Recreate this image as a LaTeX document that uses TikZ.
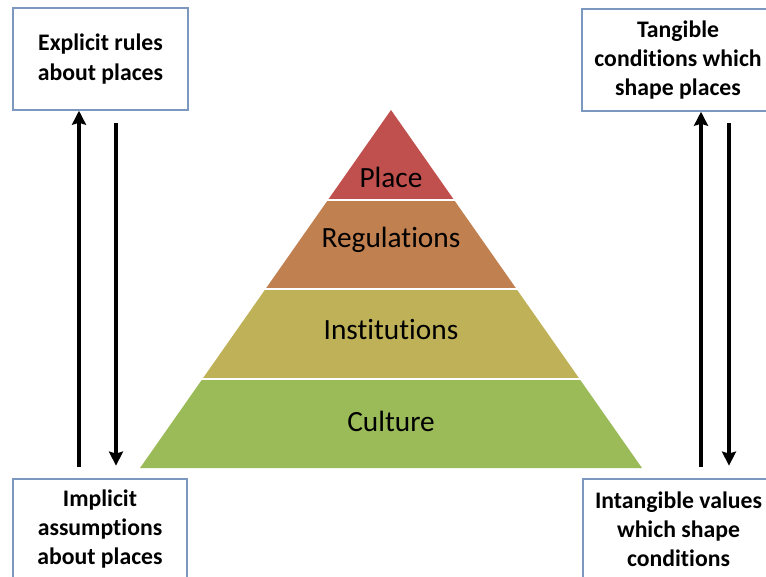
\documentclass[tikz,border=0pt]{standalone}
\usepackage{fontspec}
\setmainfont{Carlito}[Ligatures=NoCommon]
\usetikzlibrary{arrows.meta,calc}

\definecolor{placered}{RGB}{192,80,77}
\definecolor{regbrown}{RGB}{192,128,80}
\definecolor{instolive}{RGB}{191,177,88}
\definecolor{culturegreen}{RGB}{155,187,89}
\definecolor{boxblue}{RGB}{125,152,190}

\tikzset{every picture/.style={line width=0.75pt}}
\tikzset{
	notebox/.style={draw=boxblue, line width=1.1pt, fill=white, align=center, inner sep=0pt, font=\fontsize{17.8}{21.8}\selectfont\bfseries},
	bandlabel/.style={font=\fontsize{22}{26}\selectfont, text=black},
	flow/.style={line width=2.5pt, -{Stealth[length=10.5pt,width=10.5pt,inset=1.5pt]}},
}

\begin{document}
\begin{tikzpicture}[x=0.75pt,y=0.75pt,yscale=-1,xscale=1]
	\useasboundingbox (0,0) rectangle (766,576);
	\clip (0,0) rectangle (766,576);

	%Pyramid corners
	\coordinate (apex) at (391,110);
	\coordinate (bl) at (140,468);
	\coordinate (br) at (642,468);

	%Shape: Triangle [Place]
	\fill [placered] (apex) -- ($(apex)!0.25!(bl)$) -- ($(apex)!0.25!(br)$) -- cycle ;
	%Shape: Trapezoid [Regulations]
	\fill [regbrown] ($(apex)!0.25!(bl)$) -- ($(apex)!0.5!(bl)$) -- ($(apex)!0.5!(br)$) -- ($(apex)!0.25!(br)$) -- cycle ;
	%Shape: Trapezoid [Institutions]
	\fill [instolive] ($(apex)!0.5!(bl)$) -- ($(apex)!0.75!(bl)$) -- ($(apex)!0.75!(br)$) -- ($(apex)!0.5!(br)$) -- cycle ;
	%Shape: Trapezoid [Culture]
	\fill [culturegreen] ($(apex)!0.75!(bl)$) -- (bl) -- (br) -- ($(apex)!0.75!(br)$) -- cycle ;
	%white gaps between the layers
	\foreach \t in {0.25,0.5,0.75}
		\draw [white, line width=1.5pt] ($(apex)!\t!(bl)+(-2,0)$) -- ($(apex)!\t!(br)+(2,0)$) ;

	% Text Node
	\node [bandlabel] (place) at (391,177) {Place};
	% Text Node
	\node [bandlabel] (regulations) at (391,240) {Regulations};
	% Text Node
	\node [bandlabel] (institutions) at (391,330) {Institutions};
	% Text Node
	\node [bandlabel] (culture) at (391,421) {Culture};

	%Shape: Rectangle [top left]
	\node [notebox, minimum width=131.25pt, minimum height=76.5pt] (explicit) at (100.5,59) {Explicit rules\\about places};
	%Shape: Rectangle [top right]
	\node [notebox, minimum width=144pt, minimum height=76.5pt] (tangible) at (678,60) {Tangible\\conditions which\\shape places};
	%Shape: Rectangle [bottom left]
	\node [notebox, minimum width=130.5pt, minimum height=75pt] (implicit) at (100,529) {Implicit\\assumptions\\about places};
	%Shape: Rectangle [bottom right]
	\node [notebox, minimum width=143.25pt, minimum height=75pt] (intangible) at (678.5,529) {Intangible values\\which shape\\conditions};

	%Straight Lines [left pair]
	\coordinate (lup) at (79,467);
	\draw [flow] (lup) -- (lup |- explicit.south) ;
	\coordinate (ldown) at (116,123);
	\draw [flow, shorten >=9.5pt] (ldown) -- (ldown |- implicit.north) ;
	%Straight Lines [right pair]
	\coordinate (rup) at (701,467);
	\draw [flow] (rup) -- (rup |- tangible.south) ;
	\coordinate (rdown) at (729,123);
	\draw [flow, shorten >=9.5pt] (rdown) -- (rdown |- intangible.north) ;

\end{tikzpicture}
\end{document}
